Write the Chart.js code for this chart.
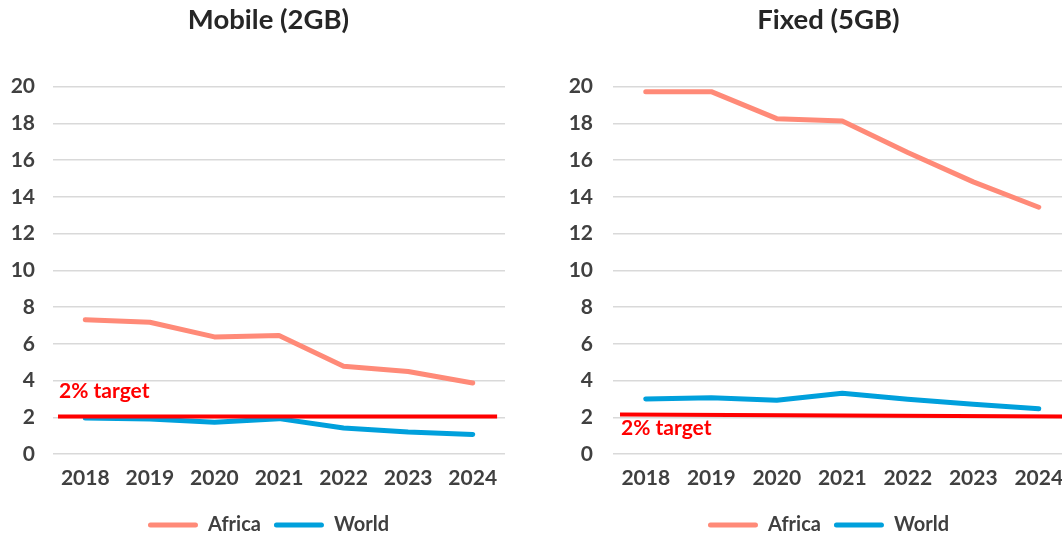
<!doctype html>
<html lang="en">
  <head>
    <meta charset="utf-8">
    <title>Mobile and fixed broadband price</title>
    <style>
      * { margin: 0; padding: 0; }
      body { width: 1062px; height: 537px; overflow: hidden; background: #fff; position: relative; }
      .box { position: absolute; top: 0; height: 545px; }
      #leftBox { left: 0; width: 537px; }
      #rightBox { left: 540px; width: 577px; }
    </style>
  </head>
  <body>
    <div class="box" id="leftBox"><canvas id="mobileChart"></canvas></div>
    <div class="box" id="rightBox"><canvas id="fixedChart"></canvas></div>
    <script src="https://cdn.jsdelivr.net/npm/chart.js"></script>
    <script>
    const years = ['2018', '2019', '2020', '2021', '2022', '2023', '2024'];
    const yTicks = [0, 2, 4, 6, 8, 10, 12, 14, 16, 18, 20];
    const mobileAfrica = [7.32, 7.18, 6.38, 6.45, 4.78, 4.5, 3.87];
    const mobileWorld = [1.96, 1.91, 1.73, 1.93, 1.42, 1.2, 1.07];
    const fixedAfrica = [19.73, 19.73, 18.26, 18.13, 16.42, 14.82, 13.44];
    const fixedWorld = [3.0, 3.07, 2.93, 3.31, 2.98, 2.71, 2.47];
    const mobileTarget = [2.05, 2.05];
    const fixedTarget = [2.15, 2.05];
    const targetText = '2% target';

    Chart.defaults.font.family = 'Lato';
    Chart.defaults.color = '#404040';

    // writes the "2% target" note next to the start of the red line
    const targetLabel = {
      id: 'targetLabel',
      afterDatasetsDraw(chart, args, opts) {
        const ctx = chart.ctx;
        const x = chart.scales.x2.getPixelForValue(0) + 1;
        const y = chart.scales.y.getPixelForValue(opts.value);
        ctx.save();
        ctx.font = 'bold 21px Lato';
        ctx.fillStyle = '#FF0000';
        ctx.textAlign = 'left';
        ctx.textBaseline = 'middle';
        ctx.fillText(opts.text, x, y);
        ctx.restore();
      }
    };

    function drawChart(id, title, africa, world, target, o) {
      new Chart(document.getElementById(id), {
        type: 'line',
        data: {
          labels: years,
          datasets: [{
            label: 'target',
            data: target.map((v, i) => ({x: i, y: v})),
            xAxisID: 'x2',
            borderColor: '#FF0000',
            backgroundColor: '#FF0000',
            borderWidth: 4,
            borderCapStyle: 'butt',
            pointRadius: 0
          }, {
            label: 'Africa',
            data: africa,
            borderColor: '#FF8A78',
            backgroundColor: '#FF8A78',
            borderWidth: 5,
            borderCapStyle: 'round',
            borderJoinStyle: 'round',
            pointRadius: 0
          }, {
            label: 'World',
            data: world,
            borderColor: '#00A0DC',
            backgroundColor: '#00A0DC',
            borderWidth: 5,
            borderCapStyle: 'round',
            borderJoinStyle: 'round',
            pointRadius: 0
          }]
        },
        options: {
          responsive: true,
          maintainAspectRatio: false,
          animation: false,
          scales: {
            x: {
              offset: true,
              grid: { display: false },
              border: { display: false },
              ticks: { font: { size: 21, weight: 'bold' }, padding: 4, color: '#404040' },
              afterFit(s) { s.height = 47.9; }
            },
            x2: {
              type: 'linear',
              display: false,
              min: o.x2min,
              max: o.x2max
            },
            y: {
              min: 0,
              max: 20,
              afterBuildTicks(s) { s.ticks = yTicks.map(v => ({value: v})); },
              grid: { color: '#D9D9D9', lineWidth: 1.5, drawTicks: false },
              border: { display: false },
              ticks: { font: { size: 21, weight: 'bold' }, padding: o.tickPad, color: '#404040' },
              afterFit(s) { s.width = o.yWidth; }
            },
            // empty axis that only keeps a margin on the right
            yRight: {
              position: 'right',
              min: 0,
              max: 20,
              grid: { display: false },
              border: { display: false },
              ticks: { display: false },
              afterFit(s) { s.width = o.rightWidth; }
            }
          },
          plugins: {
            title: {
              display: true,
              text: title,
              color: '#262626',
              font: { size: 27.5, weight: 'bold' },
              padding: { top: 3.5, bottom: 50.2 }
            },
            legend: {
              position: 'bottom',
              labels: {
                boxWidth: 50,
                boxHeight: 5,
                padding: 13,
                useBorderRadius: true,
                borderRadius: 2.5,
                font: { size: 20, weight: 'bold' },
                color: '#404040',
                filter: item => item.text !== 'target',
                generateLabels(chart) {
                  return Chart.defaults.plugins.legend.labels.generateLabels(chart)
                    .map(it => Object.assign(it, { lineWidth: 0, fillStyle: it.strokeStyle }));
                }
              }
            },
            tooltip: { enabled: false },
            targetLabel: { text: targetText, value: o.labelValue }
          }
        },
        plugins: [targetLabel]
      });
    }

    drawChart('mobileChart', 'Mobile (2GB)', mobileAfrica, mobileWorld, mobileTarget,
      { yWidth: 53, rightWidth: 32, tickPad: 18, x2min: -0.0114, x2max: 1.018, labelValue: 3.4 });
    drawChart('fixedChart', 'Fixed (5GB)', fixedAfrica, fixedWorld, fixedTarget,
      { yWidth: 73, rightWidth: 45.5, tickPad: 20, x2min: -0.0158, x2max: 1.017, labelValue: 1.42 });
    </script>
  </body>
</html>
